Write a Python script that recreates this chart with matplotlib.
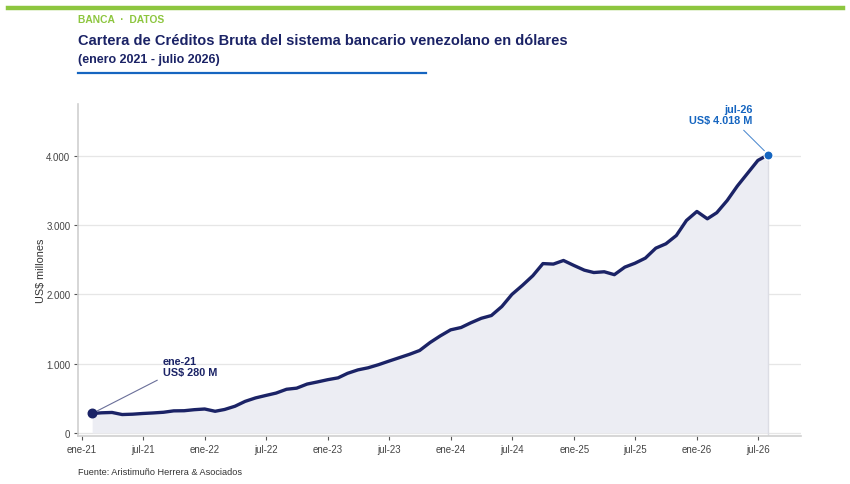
import pandas as pd
import matplotlib.pyplot as plt

plt.rcParams['font.family'] = ['Liberation Sans', 'DejaVu Sans']

NAVY = "#1b2366"
BLUE = "#1565c0"
GREEN = "#8dc63f"

# Cartera de créditos bruta, US$ millones (ene-2021 .. jul-2026)
months = pd.date_range("2021-01-31", "2026-07-31", freq="ME")
cartera = [
    280, 290, 295, 265, 270, 280, 288, 298, 318, 320, 335, 345,
    312, 338, 385, 455, 505, 540, 575, 630, 646, 705, 735, 768,
    795, 860, 910, 940, 985, 1035, 1085, 1135, 1190, 1305, 1400, 1488,
    1522, 1590, 1655, 1695, 1825, 2000, 2130, 2270, 2445, 2438, 2490, 2418,
    2350, 2316, 2327, 2285, 2394, 2450, 2524, 2668, 2731, 2851, 3068, 3198,
    3092, 3180, 3357, 3565, 3753, 3935, 4018,
]
tick_dates = pd.date_range("2021-01-01", "2026-07-01", freq="6MS")
mes = {1: "ene", 7: "jul"}
tick_labels = [f"{mes[d.month]}-{d.strftime('%y')}" for d in tick_dates]

fig = plt.figure(figsize=(8.5, 4.85), dpi=100)
ax = fig.add_axes([78/850, 1 - 437/485, (801 - 78)/850, (437 - 105)/485])

# -------------------------
# Header
# -------------------------
fig.add_artist(plt.Line2D([8/850, 843/850], [1 - 8.5/485, 1 - 8.5/485],
                          color=GREEN, lw=3.2, transform=fig.transFigure))
fig.text(78/850, 1 - 20/485, "BANCA  ·  DATOS", color=GREEN, fontsize=7.4,
         fontweight="bold", va="center")
fig.text(78/850, 1 - 41/485,
         "Cartera de Créditos Bruta del sistema bancario venezolano en dólares",
         color=NAVY, fontsize=10.5, fontweight="bold", va="center")
fig.text(78/850, 1 - 60/485, "(enero 2021 - julio 2026)", color=NAVY,
         fontsize=9, fontweight="bold", va="center")
fig.add_artist(plt.Line2D([78/850, 426/850], [1 - 73.5/485, 1 - 73.5/485],
                          color=BLUE, lw=1.6, transform=fig.transFigure))
fig.text(78/850, 1 - 473/485, "Fuente: Aristimuño Herrera & Asociados",
         color="#333333", fontsize=6.6, va="center")

# -------------------------
# Serie
# -------------------------
ax.fill_between(months, cartera, 0, color="#ecedf3", lw=0, zorder=1)
ax.axvline(months[-1], ymax=(cartera[-1] + 45) / 4795, color="#dcdde4",
           lw=1, zorder=1)
ax.plot(months, cartera, color=NAVY, lw=2.4, zorder=3,
        solid_joinstyle="round")
ax.scatter([months[0]], [cartera[0]], s=38, color=NAVY, zorder=4)
ax.scatter([months[-1]], [cartera[-1]], s=42, color=BLUE, edgecolor="white",
           lw=0.8, zorder=4)

ax.annotate("ene-21\nUS$ 280 M", xy=(months[0], cartera[0]),
            xytext=(pd.Timestamp("2021-08-28"), 800),
            color=NAVY, fontsize=7.8, fontweight="bold", ha="left", va="bottom",
            linespacing=1.2,
            arrowprops=dict(arrowstyle="-", color="#6a6f99", lw=0.8,
                            shrinkA=2, shrinkB=4,
                            relpos=(0, 0)))
ax.annotate("jul-26\nUS$ 4.018 M", xy=(months[-1], cartera[-1]),
            xytext=(pd.Timestamp("2026-06-15"), 4440),
            color=BLUE, fontsize=7.8, fontweight="bold", ha="right", va="bottom",
            linespacing=1.2, multialignment="right",
            arrowprops=dict(arrowstyle="-", color=BLUE, lw=0.7, alpha=0.8,
                            shrinkA=2, shrinkB=4, relpos=(0.78, 0)))

# -------------------------
# Ejes
# -------------------------
ax.set_xlim(pd.Timestamp("2020-12-20"), pd.Timestamp("2026-11-05"))
ax.set_ylim(-45, 4750)
ax.set_yticks([0, 1000, 2000, 3000, 4000])
ax.set_yticklabels(["0", "1.000", "2.000", "3.000", "4.000"])
ax.set_xticks(tick_dates)
ax.set_xticklabels(tick_labels)
ax.grid(axis="y", color="#e6e6e6", lw=0.9, zorder=0)
ax.set_axisbelow(True)
for s in ["top", "right"]:
    ax.spines[s].set_visible(False)
for s in ["left", "bottom"]:
    ax.spines[s].set_color("#d0d0d0")
    ax.spines[s].set_linewidth(1.2)
ax.tick_params(axis="both", labelsize=7, labelcolor="#444444", length=3,
               width=0.8, pad=2.5, color="#555555")
ax.set_ylabel("US$ millones", fontsize=7.8, color="#333333", labelpad=0.5)

plt.savefig("out.png", dpi=100)
